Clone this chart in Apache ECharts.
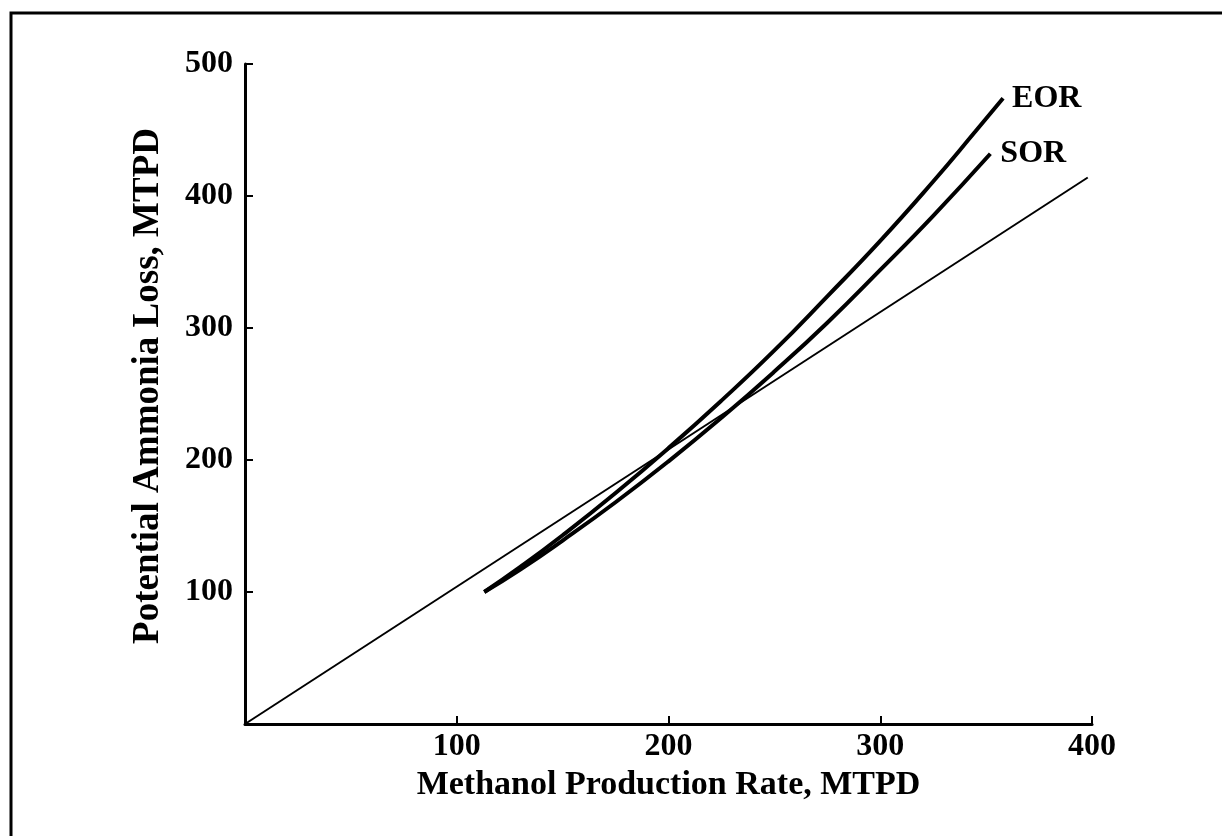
<!DOCTYPE html>
<html>
<head>
<meta charset="utf-8">
<script src="https://cdn.jsdelivr.net/npm/echarts@6/dist/echarts.min.js"></script>
<style>
html,body{margin:0;padding:0;background:#fff;}
#chart{width:1222px;height:836px;}
</style>
</head>
<body>
<div id="chart"></div>
<script>
// Data
const xTitle = "Methanol Production Rate, MTPD";
const yTitle = "Potential Ammonia Loss, MTPD";
const xTicks = [0, 100, 200, 300, 400];
const yTicks = [0, 100, 200, 300, 400, 500];

const eorX = [113, 130, 150, 175, 200, 225, 250, 275, 300, 325, 345, 358];
const eorY = [100, 119, 143, 175, 209, 245, 283, 324, 366, 411, 449, 474];

const sorX = [113, 130, 150, 175, 200, 225, 250, 275, 300, 325, 352];
const sorY = [100, 117, 139, 168, 199, 232, 267, 304, 344, 385, 432];

const refX = [0, 398];
const refY = [0, 414];

const font = '"Liberation Serif", "Times New Roman", serif';
const zip = (xs, ys) => xs.map((x, i) => [x, ys[i]]);

const chart = echarts.init(document.getElementById('chart'), null, {renderer: 'canvas'});
chart.setOption({
  animation: false,
  backgroundColor: '#fff',
  graphic: [{
    type: 'rect',
    shape: {x: 11, y: 13, width: 1240, height: 860},
    style: {fill: 'none', stroke: '#000', lineWidth: 3},
    silent: true
  }],
  grid: {left: 245, right: 130, top: 64, bottom: 112, containLabel: false},
  xAxis: {
    type: 'value',
    min: xTicks[0], max: xTicks[xTicks.length - 1], interval: 100,
    splitLine: {show: false},
    axisLine: {show: true, onZero: false, lineStyle: {color: '#000', width: 3}},
    axisTick: {show: true, inside: true, length: 8, lineStyle: {color: '#000', width: 2}},
    axisLabel: {
      showMinLabel: false, margin: 7, color: '#000',
      fontFamily: font, fontWeight: 'bold', fontSize: 32
    },
    name: xTitle, nameLocation: 'middle', nameGap: 34,
    nameTextStyle: {color: '#000', fontFamily: font, fontWeight: 'bold', fontSize: 34}
  },
  yAxis: {
    type: 'value',
    min: yTicks[0], max: yTicks[yTicks.length - 1], interval: 100,
    splitLine: {show: false},
    axisLine: {show: true, onZero: false, lineStyle: {color: '#000', width: 3}},
    axisTick: {show: true, inside: true, length: 8, lineStyle: {color: '#000', width: 2}},
    axisLabel: {
      showMinLabel: false, margin: 12, color: '#000',
      fontFamily: font, fontWeight: 'bold', fontSize: 32
    },
    name: yTitle, nameLocation: 'middle', nameGap: 78,
    nameTextStyle: {color: '#000', fontFamily: font, fontWeight: 'bold', fontSize: 37, padding: [0, 0, 0, 16]}
  },
  series: [
    {
      name: 'line', type: 'line', data: zip(refX, refY), showSymbol: false,
      lineStyle: {color: '#000', width: 2}, silent: true
    },
    {
      name: 'SOR', type: 'line', data: zip(sorX, sorY), showSymbol: false, smooth: true,
      lineStyle: {color: '#000', width: 4}, silent: true,
      endLabel: {show: true, formatter: 'SOR', distance: 10, color: '#000',
        fontFamily: font, fontWeight: 'bold', fontSize: 32}
    },
    {
      name: 'EOR', type: 'line', data: zip(eorX, eorY), showSymbol: false, smooth: true,
      lineStyle: {color: '#000', width: 4}, silent: true,
      endLabel: {show: true, formatter: 'EOR', distance: 9, color: '#000',
        fontFamily: font, fontWeight: 'bold', fontSize: 32}
    }
  ]
});
</script>
</body>
</html>
